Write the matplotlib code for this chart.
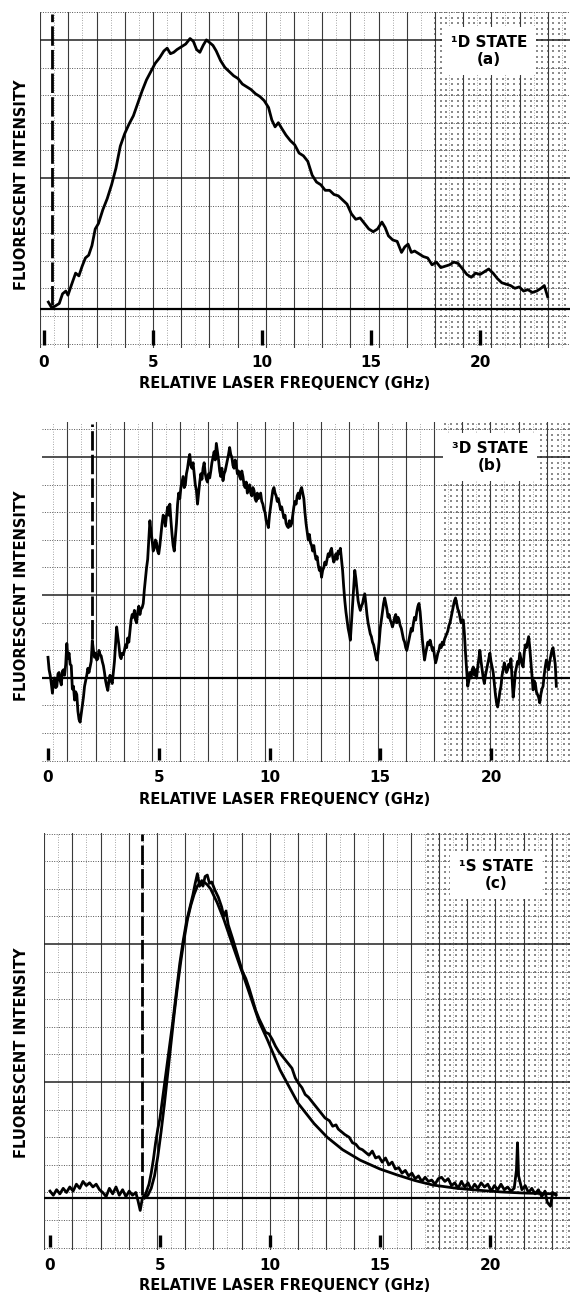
import numpy as np
import matplotlib.pyplot as plt

# ---- data (GHz, intensity in graph-paper squares above baseline) ----
ticks = [0, 5, 10, 15, 20]
tick_labels = ['0', '5', '10', '15', '20']
xlabel = 'RELATIVE LASER FREQUENCY (GHz)'
ylabel = 'FLUORESCENT INTENSITY'
states = ['\u00b9D STATE\n(a)', '\u00b3D STATE\n(b)', '\u00b9S STATE\n(c)']
dash_x = [0.37, 2.0, 4.2]

a_x = [0.2, 0.35, 0.5, 0.7, 0.85, 1.0, 1.1, 1.25, 1.45, 1.6, 1.75, 1.9, 2.05, 2.2, 2.35,
       2.5, 2.7, 2.9, 3.1, 3.3, 3.5, 3.7, 3.9, 4.1, 4.3, 4.5, 4.7, 4.9, 5.1, 5.3, 5.5,
       5.65, 5.8, 5.95, 6.1, 6.3, 6.5, 6.7, 6.85, 7.0, 7.15, 7.3, 7.45, 7.6, 7.75, 7.9,
       8.1, 8.3, 8.5, 8.7, 8.9, 9.1, 9.3, 9.5, 9.7, 9.9, 10.1, 10.3, 10.45, 10.6, 10.75,
       10.9, 11.1, 11.3, 11.5, 11.7, 11.9, 12.1, 12.3, 12.5, 12.7, 12.9, 13.1, 13.3, 13.5,
       13.7, 13.9, 14.1, 14.3, 14.5, 14.7, 14.9, 15.1, 15.3, 15.5, 15.65, 15.8, 16.0,
       16.2, 16.4, 16.55, 16.7, 16.85, 17.0, 17.2, 17.4, 17.6, 17.8, 18.0, 18.2, 18.4,
       18.6, 18.8, 19.0, 19.2, 19.4, 19.6, 19.8, 20.0, 20.2, 20.4, 20.6, 20.8, 21.0,
       21.2, 21.4, 21.6, 21.8, 22.0, 22.2, 22.4, 22.6, 22.8, 22.95, 23.1]
a_y = [0.25, 0.05, 0.1, 0.2, 0.55, 0.65, 0.5, 0.85, 1.3, 1.2, 1.55, 1.85, 1.95, 2.3, 2.9,
       3.1, 3.6, 4.0, 4.5, 5.1, 5.9, 6.35, 6.7, 7.0, 7.45, 7.9, 8.3, 8.6, 8.9, 9.1, 9.35,
       9.45, 9.25, 9.3, 9.4, 9.5, 9.6, 9.8, 9.7, 9.4, 9.3, 9.55, 9.75, 9.65, 9.55, 9.35,
       9.0, 8.75, 8.6, 8.45, 8.35, 8.15, 8.05, 7.95, 7.8, 7.7, 7.55, 7.3, 6.85, 6.6, 6.75,
       6.55, 6.3, 6.1, 5.95, 5.65, 5.55, 5.35, 4.85, 4.6, 4.5, 4.3, 4.3, 4.15, 4.1,
       3.95, 3.8, 3.45, 3.25, 3.3, 3.1, 2.9, 2.8, 2.9, 3.15, 2.95, 2.65, 2.5,
       2.45, 2.05, 2.25, 2.35, 2.05, 2.1, 2.0, 1.9, 1.85, 1.6, 1.7, 1.5, 1.55,
       1.6, 1.7, 1.65, 1.45, 1.25, 1.15, 1.3, 1.25, 1.35, 1.45, 1.3, 1.1, 0.95,
       0.9, 0.85, 0.75, 0.8, 0.65, 0.7, 0.6, 0.65, 0.75, 0.85, 0.45]

# 3D trace, (GHz, intensity) pairs
b_pts = [
    (0.0, 0.75), (0.05, 0.3), (0.1, 0.1), (0.15, -0.2), (0.2, -0.55), (0.25, -0.1), (0.3, 0.0),
    (0.35, -0.35), (0.4, -0.3), (0.45, 0.15), (0.5, 0.2), (0.55, -0.1), (0.6, -0.25), (0.65, 0.25),
    (0.7, 0.3), (0.75, 0.1), (0.8, 0.5), (0.85, 1.25), (0.9, 0.7), (0.95, 0.9), (1.0, 0.5),
    (1.05, 0.45), (1.1, -0.4), (1.15, -0.3), (1.2, -0.8), (1.25, -0.5), (1.3, -0.6), (1.35, -1.2),
    (1.4, -1.5), (1.45, -1.6), (1.5, -1.3), (1.55, -1.0), (1.6, -0.7), (1.65, -0.3), (1.7, -0.1),
    (1.75, 0.1), (1.8, 0.35), (1.85, 0.2), (1.9, 0.4), (1.95, 0.6), (2.0, 1.35), (2.05, 1.0),
    (2.1, 0.75), (2.15, 0.9), (2.2, 0.65), (2.25, 0.7), (2.3, 1.0), (2.35, 0.85), (2.4, 0.8),
    (2.45, 0.6), (2.5, 0.45), (2.55, 0.2), (2.6, -0.1), (2.65, -0.3), (2.7, -0.45), (2.75, -0.1),
    (2.8, 0.1), (2.85, -0.1), (2.9, -0.2), (2.95, 0.2), (3.0, 0.6), (3.05, 1.2), (3.1, 1.85),
    (3.15, 1.5), (3.2, 1.2), (3.25, 0.8), (3.3, 0.7), (3.35, 0.9), (3.4, 0.85), (3.45, 1.0),
    (3.5, 1.2), (3.55, 1.1), (3.6, 1.45), (3.65, 1.3), (3.7, 1.7), (3.75, 2.1), (3.8, 2.3),
    (3.85, 2.2), (3.9, 2.45), (3.95, 2.1), (4.0, 2.0), (4.05, 2.4), (4.1, 2.6), (4.15, 2.3),
    (4.2, 2.5), (4.25, 2.55), (4.3, 2.7), (4.35, 3.2), (4.4, 3.6), (4.45, 4.0), (4.5, 4.3),
    (4.55, 5.0), (4.6, 5.7), (4.65, 5.3), (4.7, 5.0), (4.75, 4.6), (4.8, 4.7), (4.85, 5.0),
    (4.9, 4.9), (4.95, 4.6), (5.0, 4.5), (5.05, 4.8), (5.1, 5.2), (5.15, 5.6), (5.2, 5.9),
    (5.25, 5.8), (5.3, 5.5), (5.35, 5.9), (5.4, 6.2), (5.45, 5.9), (5.5, 6.3), (5.55, 5.7),
    (5.6, 5.2), (5.65, 4.8), (5.7, 4.6), (5.75, 5.1), (5.8, 5.6), (5.85, 6.3), (5.9, 6.7),
    (5.95, 6.5), (6.0, 6.9), (6.05, 7.1), (6.1, 7.3), (6.15, 6.9), (6.2, 7.0), (6.25, 7.4),
    (6.3, 7.6), (6.35, 7.9), (6.4, 8.1), (6.45, 7.7), (6.5, 7.6), (6.55, 7.8), (6.6, 7.4),
    (6.65, 7.0), (6.7, 6.8), (6.75, 6.3), (6.8, 6.7), (6.85, 7.1), (6.9, 7.4), (6.95, 7.2),
    (7.0, 7.6), (7.05, 7.8), (7.1, 7.4), (7.15, 7.2), (7.2, 7.1), (7.25, 7.4), (7.3, 7.25),
    (7.35, 7.5), (7.4, 7.8), (7.45, 8.0), (7.5, 8.2), (7.55, 7.9), (7.6, 8.5), (7.65, 8.2),
    (7.7, 7.9), (7.75, 7.5), (7.8, 7.3), (7.85, 7.6), (7.9, 7.15), (7.95, 7.4), (8.0, 7.5),
    (8.05, 7.7), (8.1, 7.9), (8.15, 8.1), (8.2, 8.35), (8.25, 8.1), (8.3, 8.0), (8.35, 7.7),
    (8.4, 7.6), (8.45, 7.9), (8.5, 7.7), (8.55, 7.4), (8.6, 7.5), (8.65, 7.3), (8.7, 7.2),
    (8.75, 7.5), (8.8, 7.3), (8.85, 7.0), (8.9, 6.9), (8.95, 7.1), (9.0, 6.7), (9.05, 6.9),
    (9.1, 7.0), (9.15, 6.7), (9.2, 6.6), (9.25, 6.9), (9.3, 6.8), (9.35, 6.5), (9.4, 6.4),
    (9.45, 6.7), (9.5, 6.5), (9.55, 6.6), (9.6, 6.7), (9.65, 6.4), (9.7, 6.3), (9.75, 6.1),
    (9.8, 6.0), (9.85, 5.7), (9.9, 5.6), (9.95, 5.45), (10.0, 5.9), (10.05, 6.2), (10.1, 6.5),
    (10.15, 6.8), (10.2, 6.9), (10.25, 6.7), (10.3, 6.6), (10.35, 6.4), (10.4, 6.5), (10.45, 6.3),
    (10.5, 6.1), (10.55, 6.2), (10.6, 6.0), (10.65, 5.8), (10.7, 5.9), (10.75, 5.6), (10.8, 5.5),
    (10.85, 5.45), (10.9, 5.7), (10.95, 5.5), (11.0, 5.6), (11.05, 5.9), (11.1, 6.2), (11.15, 6.4),
    (11.2, 6.3), (11.25, 6.6), (11.3, 6.7), (11.35, 6.5), (11.4, 6.8), (11.45, 6.9), (11.5, 6.7),
    (11.55, 6.5), (11.6, 6.0), (11.65, 5.6), (11.7, 5.3), (11.75, 5.0), (11.8, 5.2), (11.85, 4.9),
    (11.9, 4.8), (11.95, 4.6), (12.0, 4.8), (12.05, 4.5), (12.1, 4.3), (12.15, 4.4), (12.2, 4.1),
    (12.25, 3.9), (12.3, 4.0), (12.35, 3.65), (12.4, 3.9), (12.45, 4.0), (12.5, 4.2), (12.55, 4.1),
    (12.6, 4.3), (12.65, 4.5), (12.7, 4.4), (12.75, 4.6), (12.8, 4.7), (12.85, 4.4), (12.9, 4.2),
    (12.95, 4.3), (13.0, 4.5), (13.05, 4.3), (13.1, 4.6), (13.15, 4.5), (13.2, 4.7), (13.25, 4.3),
    (13.3, 3.9), (13.35, 3.3), (13.4, 2.8), (13.45, 2.4), (13.5, 2.1), (13.55, 1.8), (13.6, 1.6),
    (13.65, 1.37), (13.7, 2.0), (13.75, 2.6), (13.8, 3.2), (13.85, 3.9), (13.9, 3.6), (13.95, 3.2),
    (14.0, 2.8), (14.05, 2.6), (14.1, 2.45), (14.15, 2.6), (14.2, 2.7), (14.25, 2.9), (14.3, 3.05),
    (14.35, 2.7), (14.4, 2.3), (14.45, 2.0), (14.5, 1.8), (14.55, 1.6), (14.6, 1.5), (14.65, 1.3),
    (14.7, 1.2), (14.75, 1.0), (14.8, 0.8), (14.85, 0.65), (14.9, 0.9), (14.95, 1.3), (15.0, 1.8),
    (15.05, 2.1), (15.1, 2.4), (15.15, 2.7), (15.2, 2.9), (15.25, 2.7), (15.3, 2.5), (15.35, 2.2),
    (15.4, 2.3), (15.45, 2.1), (15.5, 2.0), (15.55, 1.85), (15.6, 2.0), (15.65, 2.2), (15.7, 2.3),
    (15.75, 2.0), (15.8, 2.2), (15.85, 2.1), (15.9, 1.9), (15.95, 1.8), (16.0, 1.6), (16.05, 1.4),
    (16.1, 1.3), (16.15, 1.1), (16.2, 1.0), (16.25, 1.2), (16.3, 1.4), (16.35, 1.6), (16.4, 1.8),
    (16.45, 1.7), (16.5, 2.0), (16.55, 2.2), (16.6, 2.1), (16.65, 2.4), (16.7, 2.6), (16.75, 2.7),
    (16.8, 2.4), (16.85, 1.9), (16.9, 1.4), (16.95, 1.0), (17.0, 0.65), (17.05, 0.9), (17.1, 1.1),
    (17.15, 1.3), (17.2, 1.2), (17.25, 1.37), (17.3, 1.2), (17.35, 1.0), (17.4, 1.1), (17.45, 0.8),
    (17.5, 0.55), (17.55, 0.7), (17.6, 0.9), (17.65, 1.0), (17.7, 1.2), (17.75, 1.1), (17.8, 1.3),
    (17.85, 1.2), (17.9, 1.4), (17.95, 1.5), (18.0, 1.6), (18.05, 1.7), (18.1, 1.9), (18.15, 2.0),
    (18.2, 2.2), (18.25, 2.4), (18.3, 2.6), (18.35, 2.8), (18.4, 2.9), (18.45, 2.7), (18.5, 2.5),
    (18.55, 2.4), (18.6, 2.2), (18.65, 2.0), (18.7, 2.1), (18.75, 2.1), (18.8, 1.6), (18.85, 0.9),
    (18.9, 0.3), (18.95, -0.3), (19.0, -0.1), (19.05, 0.2), (19.1, 0.0), (19.15, 0.3), (19.2, 0.4),
    (19.25, 0.1), (19.3, 0.3), (19.35, 0.0), (19.4, 0.4), (19.45, 0.7), (19.5, 1.0), (19.55, 0.6),
    (19.6, 0.3), (19.65, 0.0), (19.7, -0.2), (19.75, 0.1), (19.8, 0.3), (19.85, 0.5), (19.9, 0.7),
    (19.95, 0.9), (20.0, 0.6), (20.05, 0.4), (20.1, 0.2), (20.15, -0.2), (20.2, -0.6), (20.25, -0.9),
    (20.3, -1.05), (20.35, -0.8), (20.4, -0.5), (20.45, -0.3), (20.5, 0.1), (20.55, 0.3), (20.6, 0.55),
    (20.65, 0.4), (20.7, 0.2), (20.75, 0.3), (20.8, 0.5), (20.85, 0.4), (20.9, 0.7), (20.95, 0.0),
    (21.0, -0.7), (21.05, -0.3), (21.1, 0.2), (21.15, 0.4), (21.2, 0.6), (21.25, 0.5), (21.3, 0.9),
    (21.35, 0.7), (21.4, 0.5), (21.45, 0.4), (21.5, 0.9), (21.55, 1.2), (21.6, 1.1), (21.65, 1.3),
    (21.7, 1.5), (21.75, 1.1), (21.8, 0.6), (21.85, 0.1), (21.9, -0.43), (21.95, -0.1), (22.0, -0.2),
    (22.05, -0.5), (22.1, -0.6), (22.15, -0.7), (22.2, -0.9), (22.25, -0.6), (22.3, -0.4),
    (22.35, -0.3), (22.4, 0.1), (22.45, 0.4), (22.5, 0.65), (22.55, 0.5), (22.6, 0.3), (22.65, 0.6),
    (22.7, 0.8), (22.75, 1.0), (22.8, 1.1), (22.85, 0.8), (22.9, 0.5), (22.95, -0.3),
]
b_x = [p[0] for p in b_pts]
b_y = [p[1] for p in b_pts]

c_x = [0.0, 0.15, 0.3, 0.45, 0.6, 0.75, 0.9, 1.05, 1.2, 1.35, 1.5, 1.65, 1.8, 1.95, 2.1,
       2.25, 2.4, 2.55, 2.7, 2.85, 3.0, 3.15, 3.3, 3.45, 3.6, 3.75, 3.9, 4.0, 4.1, 4.2,
       4.35, 4.5, 4.6, 4.7, 4.8, 4.9, 5.0, 5.1, 5.2, 5.3, 5.45, 5.6, 5.75, 5.9, 6.05, 6.2,
       6.35, 6.5, 6.6, 6.7, 6.8, 6.9, 6.95, 7.05, 7.15, 7.25, 7.35, 7.5, 7.65, 7.8, 7.9,
       8.0, 8.1, 8.2, 8.3, 8.45, 8.6, 8.75, 8.9, 9.05, 9.2, 9.35, 9.5, 9.65, 9.8, 9.95,
       10.1, 10.25, 10.4, 10.55, 10.7, 10.85, 11.0, 11.15, 11.3, 11.45, 11.6, 11.75, 11.9,
       12.05, 12.2, 12.35, 12.5, 12.7, 12.85, 13.0, 13.1, 13.25, 13.4, 13.6, 13.75, 13.9,
       14.05, 14.2, 14.35, 14.5, 14.65, 14.8, 14.95, 15.1, 15.25, 15.4, 15.55, 15.7, 15.85,
       16.0, 16.15, 16.3, 16.45, 16.6, 16.75, 16.9, 17.05, 17.2, 17.35, 17.5, 17.65, 17.8,
       17.95, 18.1, 18.25, 18.4, 18.55, 18.7, 18.85, 19.0, 19.15, 19.3, 19.45, 19.6, 19.75,
       19.9, 20.05, 20.2, 20.35, 20.5, 20.65, 20.8, 20.95, 21.1, 21.2, 21.25, 21.3, 21.45,
       21.6, 21.75, 21.9, 22.05, 22.2, 22.35, 22.5, 22.6, 22.75, 22.85, 23.0]
c_y = [0.25, 0.1, 0.3, 0.15, 0.35, 0.2, 0.4, 0.25, 0.5, 0.35, 0.6, 0.45, 0.55, 0.4, 0.5,
       0.3, 0.2, 0.05, 0.35, 0.15, 0.4, 0.1, 0.3, 0.05, 0.25, 0.1, 0.2, -0.1, -0.45, 0.0,
       0.15, 0.5, 0.9, 1.4, 2.0, 2.5, 2.9, 3.5, 4.1, 4.7, 5.6, 6.5, 7.5, 8.5, 9.3, 10.0,
       10.5, 11.0, 11.4, 11.75, 11.3, 11.5, 11.3, 11.65, 11.7, 11.4, 11.45, 11.15, 10.9,
       10.55, 10.2, 10.4, 9.9, 9.65, 9.4, 9.0, 8.6, 8.2, 7.95, 7.6, 7.2, 6.8, 6.5, 6.25,
       6.0, 5.95, 5.75, 5.5, 5.3, 5.15, 5.0, 4.85, 4.7, 4.35, 4.15, 4.0, 3.75, 3.65, 3.5,
       3.35, 3.2, 3.05, 2.9, 2.8, 2.6, 2.65, 2.5, 2.4, 2.3, 2.2, 2.0, 1.95, 1.8, 1.75,
       1.65, 1.55, 1.7, 1.45, 1.5, 1.3, 1.45, 1.2, 1.3, 1.05, 1.1, 0.9, 1.0, 0.8, 0.9, 0.7,
       0.8, 0.6, 0.75, 0.6, 0.65, 0.5, 0.7, 0.75, 0.6, 0.7, 0.45, 0.55, 0.35, 0.6, 0.4,
       0.55, 0.3, 0.5, 0.35, 0.55, 0.4, 0.5, 0.25, 0.45, 0.3, 0.5, 0.3, 0.4, 0.25, 0.35,
       1.0, 2.0, 0.8, 0.3, 0.45, 0.2, 0.35, 0.15, 0.3, 0.05, 0.25, -0.15, -0.3, 0.2, 0.1]

fit_x = [4.3, 4.45, 4.6, 4.75, 4.9, 5.05, 5.2, 5.35, 5.5, 5.65, 5.8, 5.95, 6.1, 6.25, 6.4,
         6.55, 6.7, 6.85, 7.0, 7.15, 7.3, 7.6, 7.9, 8.2, 8.55, 8.9, 9.2, 9.5, 9.9, 10.45,
         11.27, 12.0, 12.6, 13.3, 14.1, 15.0, 15.8, 16.6, 17.4, 18.5, 19.5, 20.5, 21.5, 23.0]
fit_y = [0.0, 0.1, 0.35, 0.8, 1.5, 2.4, 3.4, 4.5, 5.6, 6.7, 7.7, 8.6, 9.4, 10.1, 10.6,
         11.0, 11.3, 11.45, 11.45, 11.35, 11.2, 10.7, 10.1, 9.4, 8.6, 7.8, 7.1, 6.4, 5.7,
         4.65, 3.44, 2.7, 2.2, 1.75, 1.37, 1.05, 0.83, 0.63, 0.47, 0.35, 0.28, 0.22, 0.18, 0.15]

# ---- layout in pixels ----
W, H = 570, 1295
PX_Y = 27.6
panels = [
    dict(l=40, t=12, r=570, b=348, x0=44, k=21.8, base=309, vanchor=153, hmaj=178, tex=430,
         dash=(10.7, 0.15), bar=(-0.76, -1.3), tl=362, xl=383, yl=185, box=(489, 51)),
    dict(l=42, t=422, r=570, b=762, x0=48, k=22.15, base=678, vanchor=152, hmaj=595, tex=445,
         dash=(9.2, 1.4), bar=(-2.54, -2.97), tl=778, xl=799, yl=596, box=(490, 457)),
    dict(l=44, t=833, r=570, b=1250, x0=50, k=22.0, base=1198, vanchor=157, hmaj=1082, tex=425,
         dash=(13.2, 0.1), bar=(-1.34, -1.77), tl=1266, xl=1285, yl=1053, box=(496, 875)),
]
series = [[(a_x, a_y)], [(b_x, b_y)], [(c_x, c_y), (fit_x, fit_y)]]

plt.rcParams['font.family'] = 'DejaVu Sans'
fig = plt.figure(figsize=(W / 100, H / 100), dpi=100)

for i, p in enumerate(panels):
    ax = fig.add_axes([p['l'] / W, 1 - p['b'] / H, (p['r'] - p['l']) / W, (p['b'] - p['t']) / H])
    gx = lambda px: (px - p['x0']) / p['k']
    gy = lambda py: (p['base'] - py) / PX_Y
    ax.set_xlim(gx(p['l']), gx(p['r']))
    ax.set_ylim(gy(p['b']), gy(p['t']))
    ax.set_axis_off()

    # graph paper: fine stipple on the right, squares, heavier every fifth row
    step = 28.2 / p['k']
    v0 = gx(p['vanchor'])
    fx = np.arange(v0 - 40 * step, gx(p['r']), step / 5)
    fx = fx[fx > gx(p['tex'])]
    fy = np.arange(gy(p['hmaj']) - 20, gy(p['t']), 0.2)
    fy = fy[fy > gy(p['b'])]
    FX, FY = np.meshgrid(fx, fy)
    ax.scatter(FX.ravel(), FY.ravel(), s=0.8, marker='s', color='#8c8c8c', linewidths=0, zorder=0)
    for v in np.arange(v0 - 30 * step, gx(p['r']), step):
        if v > gx(p['l']):
            ax.axvline(v, color='#3a3a3a', lw=0.8, zorder=1)
        if v + step / 2 > gx(p['l']):
            ax.axvline(v + step / 2, color='#8a8a8a', lw=0.6, ls=(0, (1, 2)), zorder=1)
    h0 = gy(p['hmaj'])
    for j in range(-20, 20):
        h = h0 + j
        if not gy(p['b']) < h < gy(p['t']):
            continue
        if j % 5 == 0 and h > gy(p['base']) + 1:
            ax.axhline(h, color='#222222', lw=1.1, zorder=1)
        else:
            ax.axhline(h, color='#555555', lw=0.7, ls=(0, (1, 1.5)), zorder=1)

    ax.axhline(0, color='black', lw=1.6, zorder=2)
    ax.vlines(dash_x[i], p['dash'][1], p['dash'][0], color='black', lw=2.0,
              linestyles=(0, (7, 1.5)), zorder=3)
    ax.vlines(ticks, p['bar'][1], p['bar'][0], color='black', lw=2.4, zorder=3)

    for xs, ys in series[i]:
        ax.plot(xs, ys, color='black', lw=2.0, zorder=4, solid_joinstyle='round')

    for t, lab in zip(ticks, tick_labels):
        fig.text((p['x0'] + t * p['k']) / W, 1 - p['tl'] / H, lab, ha='center', va='center',
                 fontsize=11, fontweight='bold')
    fig.text(285 / W, 1 - p['xl'] / H, xlabel, ha='center', va='center', fontsize=10.5,
             fontweight='bold')
    fig.text(22 / W, 1 - p['yl'] / H, ylabel, rotation=90, ha='center', va='center',
             fontsize=10.5, fontweight='bold')
    bx, by = p['box']
    fig.text(bx / W, 1 - by / H, states[i], ha='center', va='center', fontsize=11,
             fontweight='bold', linespacing=1.15, zorder=6,
             bbox=dict(fc='white', ec='none', pad=6))

fig.savefig('out.png', dpi=100, facecolor='white')
